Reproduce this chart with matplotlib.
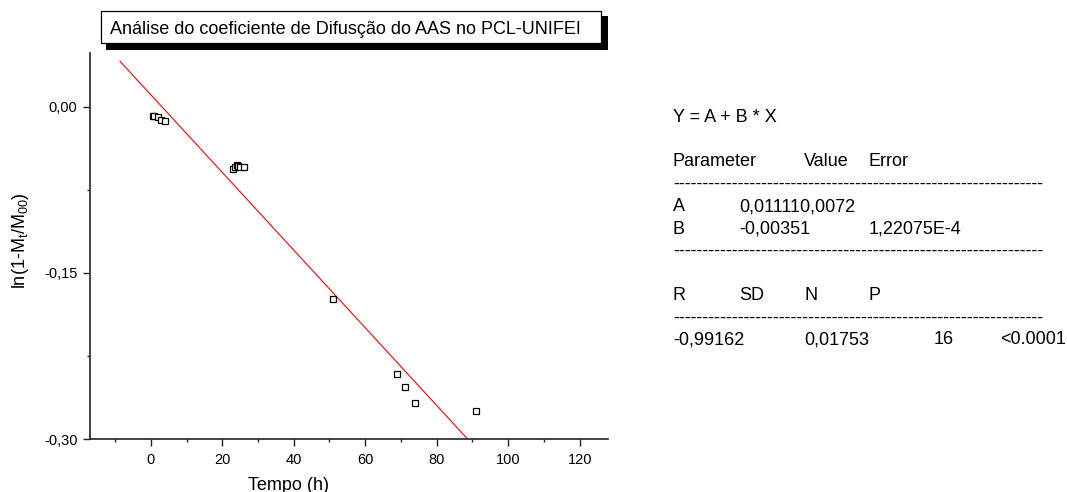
import matplotlib
matplotlib.use("Agg")
import matplotlib.pyplot as plt
from matplotlib.patches import Rectangle
import numpy as np

plt.rcParams['font.family'] = ['Liberation Sans', 'DejaVu Sans']
plt.rcParams['mathtext.fontset'] = 'custom'
plt.rcParams['mathtext.rm'] = 'Liberation Sans'
plt.rcParams['mathtext.it'] = 'Liberation Sans'

# ---- data ----
tempo = [0.5, 1.0, 2.0, 3.0, 4.0,
         23.0, 23.5, 24.0, 24.5, 25.0, 26.0,
         51.0, 69.0, 71.0, 74.0, 91.0]
ln_ratio = [-0.0078, -0.0080, -0.0095, -0.0115, -0.0125,
            -0.0558, -0.0540, -0.0525, -0.0530, -0.0546, -0.0546,
            -0.1735, -0.2410, -0.2528, -0.2676, -0.2748]
fit_A = 0.01111
fit_B = -0.00351
fit_x = [-8.6, 95.0]

x_major = [0, 20, 40, 60, 80, 100, 120]
x_minor = [-10, 10, 30, 50, 70, 90, 110]
y_major = [0.0, -0.15, -0.30]
y_major_labels = ["0,00", "-0,15", "-0,30"]
y_minor = [-0.075, -0.225]

title = "Análise do coeficiente de Difusção do AAS no PCL-UNIFEI"
xlabel = "Tempo (h)"
ylabel = r"ln(1-M$_\mathrm{t}$/M$_\mathrm{00}$)"

W, H = 1067, 492
fig = plt.figure(figsize=(W / 100, H / 100), dpi=100)

def fx(px):
    return px / W

def fy(py):
    return 1 - py / H

ax = fig.add_axes([fx(90), fy(439), fx(608.3) - fx(90), fy(53.3) - fy(439)])
ax.set_xlim(-17, 128)
ax.set_ylim(-0.30, 0.0485)

fit_y = [fit_A + fit_B * v for v in fit_x]
ax.plot(fit_x, fit_y, color='#ff0000', lw=0.8, zorder=2)
ax.plot(tempo, ln_ratio, linestyle='none', marker='s', ms=5, mfc='white',
        mec='black', mew=0.9, zorder=3)

for s in ['top', 'right']:
    ax.spines[s].set_visible(False)
for s in ['left', 'bottom']:
    ax.spines[s].set_linewidth(1.2)
    ax.spines[s].set_color('#222222')

ax.set_xticks(x_major)
ax.set_xticks(x_minor, minor=True)
ax.set_yticks(y_major)
ax.set_yticklabels(y_major_labels)
ax.set_yticks(y_minor, minor=True)
ax.tick_params(which='major', direction='out', length=5, width=1.0, color='#222222',
               labelsize=10.5, pad=4)
ax.tick_params(which='minor', direction='out', length=2.5, width=1.0, color='#222222')
ax.tick_params(axis='x', which='major', pad=5)

# axis labels placed as figure text
fig.text(fx(288), fy(490), xlabel, ha='center', va='baseline', fontsize=13)
fig.text(fx(21), fy(241), ylabel, ha='center', va='center', rotation=90, fontsize=13)

# title box with shadow
fig.add_artist(Rectangle((fx(105.5), fy(50)), fx(608) - fx(105.5), fy(16) - fy(50),
                         transform=fig.transFigure, facecolor='black', edgecolor='none'))
fig.add_artist(Rectangle((fx(100.7), fy(43.3)), fx(601) - fx(100.7), fy(10.7) - fy(43.3),
                         transform=fig.transFigure, facecolor='white', edgecolor='black',
                         linewidth=0.9))
fig.text(fx(110.5), fy(33.5), title, ha='left', va='baseline', fontsize=13)

# fit results text block
c1, c2, c3, c4, c5, c6 = 673, 739, 804, 869, 934, 1000
dashes = '-' * 63
rows = [
    (115, [(c1, "Y = A + B * X")]),
    (160, [(c1, "Parameter"), (c3, "Value"), (c4, "Error")]),
    (182, [(c1, dashes)]),
    (204.5, [(c1, "A"), (c2, "0,011110,0072")]),
    (227, [(c1, "B"), (c2, "-0,00351"), (c4, "1,22075E-4")]),
    (249, [(c1, dashes)]),
    (293.5, [(c1, "R"), (c2, "SD"), (c3, "N"), (c4, "P")]),
    (316, [(c1, dashes)]),
    (338, [(c1, "-0,99162"), (c3, "0,01753"), (c5, "16"), (c6, "<0.0001")]),
]
for yc, items in rows:
    for xp, s in items:
        fig.text(fx(xp), fy(yc + 6.5), s, ha='left', va='baseline', fontsize=13)

fig.savefig("out.png", dpi=100)
